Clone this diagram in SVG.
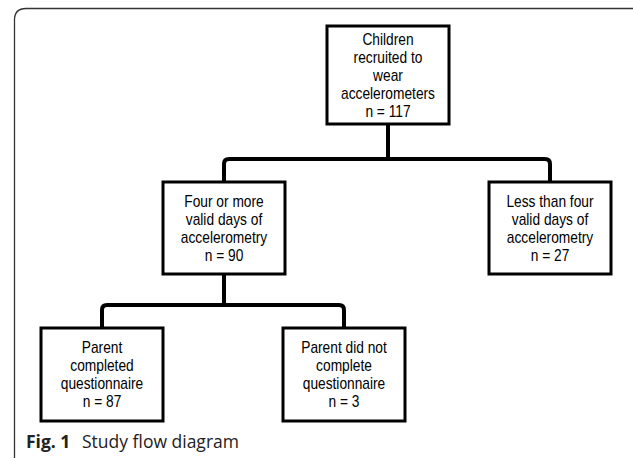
<svg xmlns="http://www.w3.org/2000/svg" width="633" height="458" viewBox="0 0 633 458">
<style>
.frame{fill:none;stroke:#333;stroke-width:1.3}
.box{fill:#fff;stroke:#000;stroke-width:3}
.t{font-family:"Liberation Sans",Arial,sans-serif;font-size:16px;text-anchor:middle;fill:#000}
.conn{fill:none;stroke:#000;stroke-width:4}
.cap{font-family:"Open Sans","Noto Sans",sans-serif;font-size:17.5px;fill:#222}
</style>
<rect width="633" height="458" fill="#fff"/>
<path class="frame" d="M14.5,458 V20 Q14.5,8.5 26,8.5 H633"/>
<g id="connectors">
<path class="conn" d="M388,124 V159"/>
<path class="conn" d="M224,182 V164 Q224,159 229,159 H545 Q550,159 550,164 V182"/>
<path class="conn" d="M224,274 V305"/>
<path class="conn" d="M102,328 V310 Q102,305 107,305 H339 Q344,305 344,310 V328"/>
</g>
<g id="n_recruited">
<rect class="box" x="327" y="26" width="122" height="98"/>
<g transform="translate(388,0) scale(0.86,1)">
<text class="t" x="0" y="45">Children</text>
<text class="t" x="0" y="63">recruited to</text>
<text class="t" x="0" y="81">wear</text>
<text class="t" x="0" y="99">accelerometers</text>
<text class="t" x="0" y="117">n = 117</text>
</g>
</g>
<g id="n_four_more">
<rect class="box" x="163" y="182" width="122" height="92"/>
<g transform="translate(224,0) scale(0.86,1)">
<text class="t" x="0" y="207">Four or more</text>
<text class="t" x="0" y="225">valid days of</text>
<text class="t" x="0" y="243">accelerometry</text>
<text class="t" x="0" y="261">n = 90</text>
</g>
</g>
<g id="n_less_four">
<rect class="box" x="489" y="182" width="122" height="92"/>
<g transform="translate(550,0) scale(0.86,1)">
<text class="t" x="0" y="207">Less than four</text>
<text class="t" x="0" y="225">valid days of</text>
<text class="t" x="0" y="243">accelerometry</text>
<text class="t" x="0" y="261">n = 27</text>
</g>
</g>
<g id="n_completed">
<rect class="box" x="41" y="328" width="122" height="93"/>
<g transform="translate(102,0) scale(0.86,1)">
<text class="t" x="0" y="353">Parent</text>
<text class="t" x="0" y="371">completed</text>
<text class="t" x="0" y="389">questionnaire</text>
<text class="t" x="0" y="407">n = 87</text>
</g>
</g>
<g id="n_not_completed">
<rect class="box" x="283" y="328" width="122" height="93"/>
<g transform="translate(344,0) scale(0.86,1)">
<text class="t" x="0" y="353">Parent did not</text>
<text class="t" x="0" y="371">complete</text>
<text class="t" x="0" y="389">questionnaire</text>
<text class="t" x="0" y="407">n = 3</text>
</g>
</g>
<text class="cap" x="26" y="448"><tspan font-weight="bold">Fig. 1</tspan><tspan x="82">Study flow diagram</tspan></text>
</svg>
